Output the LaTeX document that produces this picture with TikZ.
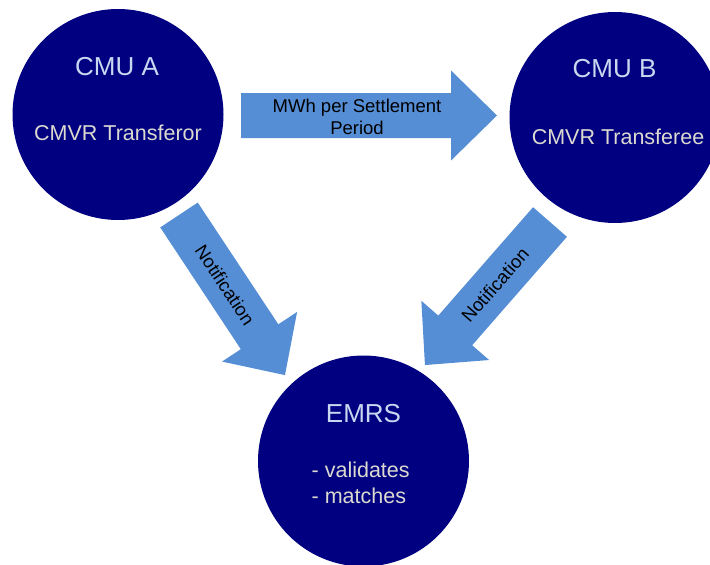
\documentclass[tikz,border=0pt]{standalone}
\usepackage{fontspec}
\setmainfont{Liberation Sans}
\definecolor{unitnavy}{HTML}{000080}
\definecolor{flowblue}{HTML}{558ED5}
\definecolor{titletext}{HTML}{C6D9F1}
\definecolor{roletext}{HTML}{DCDAD0}
\tikzset{
  party/.style={circle, fill=unitnavy, minimum size=211pt, inner sep=0pt},
  titlelabel/.style={text=titletext, anchor=base, inner sep=0pt, font=\fontsize{26}{31}\selectfont},
  rolelabel/.style={text=roletext, anchor=base, inner sep=0pt, font=\fontsize{21.5}{26}\selectfont},
  flowlabel/.style={text=black, inner sep=0pt, font=\fontsize{18.5}{22}\selectfont},
  pics/blockarrow/.style={code={
    \fill[flowblue] (0,-22.5) -- ({#1-46},-22.5) -- ({#1-46},-45) -- (#1,0)
      -- ({#1-46},45) -- ({#1-46},22.5) -- (0,22.5) -- cycle;
  }}
}
\begin{document}
\begin{tikzpicture}[x=1pt,y=-1pt]
\useasboundingbox (0,0) rectangle (710,565);

% block arrows: transfer between the units, notifications to EMRS
\pic at (241,115.5) {blockarrow=256};
\pic[rotate=-56.5] at (179,215) {blockarrow=192};
\pic[rotate=228.84] at (550,222) {blockarrow=190};

\node[flowlabel, anchor=base] (mwh) at (357,112) {MWh per Settlement};
\node[flowlabel, anchor=base] (period) at (357,134) {Period};
\node[flowlabel, rotate=-56.5] (notea) at (225,285) {Notification};
\node[flowlabel, rotate=48.84] (noteb) at (495,285) {Notification};

% the three parties
\node[party] (cmua) at (118,114.5) {};
\node[party] (cmub) at (615,117.5) {};
\node[party] (emrs) at (363.5,461) {};

\node[titlelabel] (cmuatitle) at (117,75) {CMU A};
\node[rolelabel] (cmuarole) at (118,140) {CMVR Transferor};
\node[titlelabel] (cmubtitle) at (614.5,77) {CMU B};
\node[rolelabel] (cmubrole) at (618,144) {CMVR Transferee};
\node[titlelabel] (emrstitle) at (363.5,422) {EMRS};
\node[rolelabel, anchor=base west] (validates) at (311.5,477) {- validates};
\node[rolelabel, anchor=base west] (matches) at (311.5,503) {- matches};
\end{tikzpicture}
\end{document}
